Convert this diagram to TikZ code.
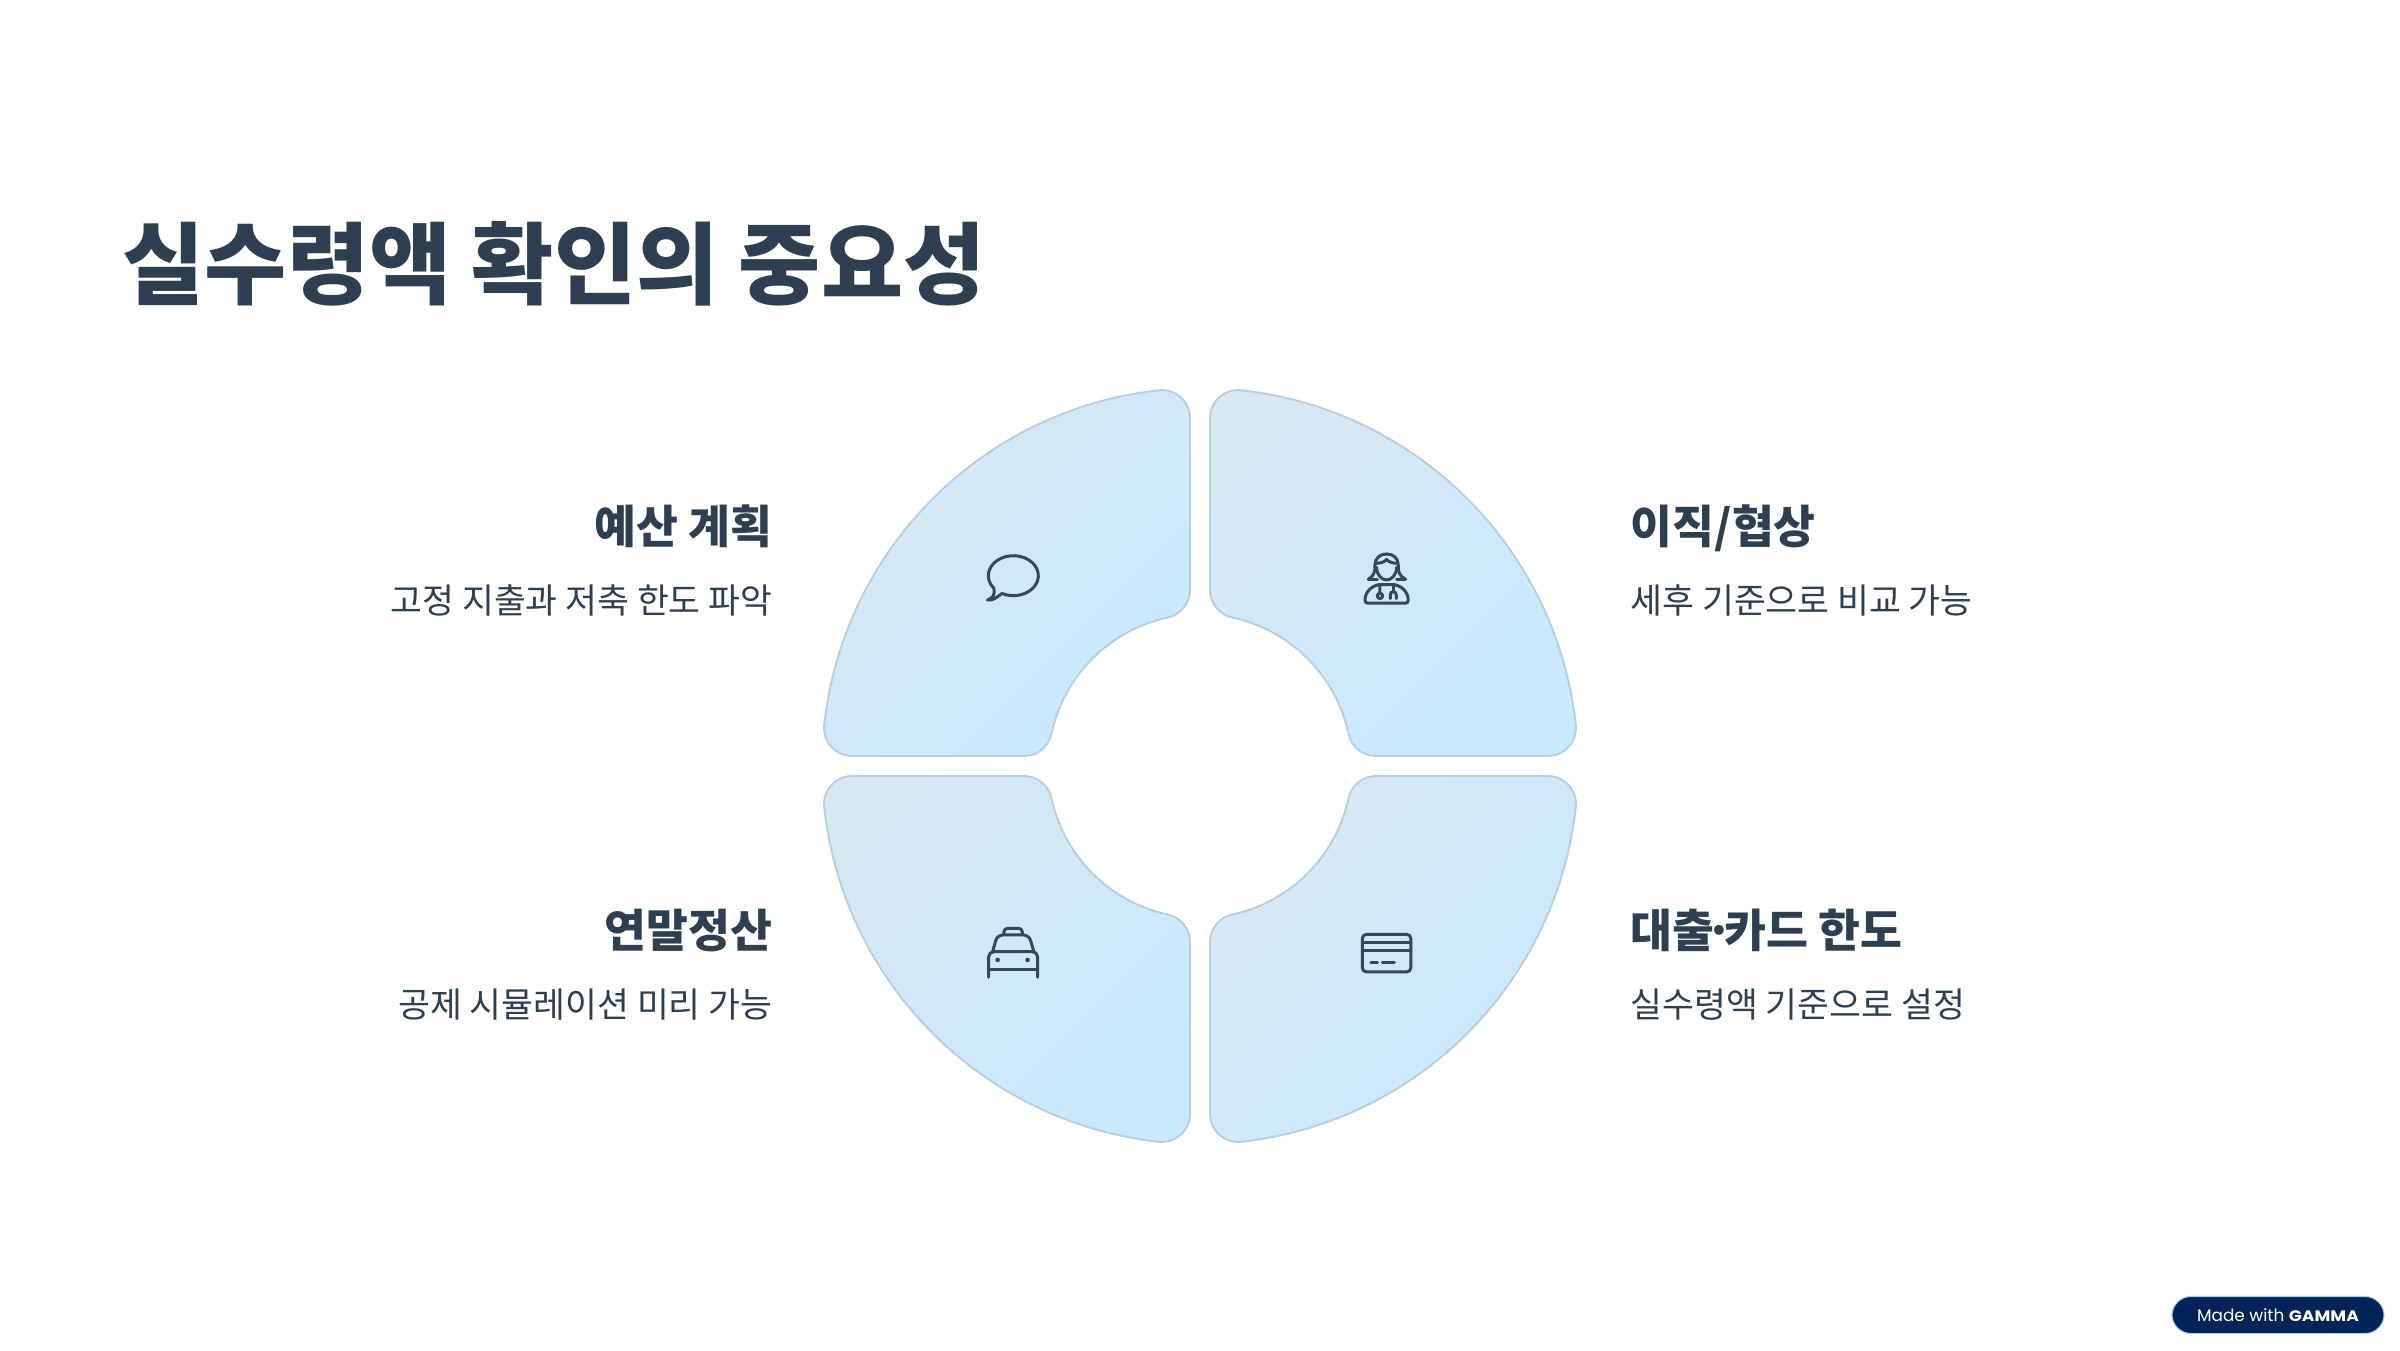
\documentclass[tikz,border=0pt]{standalone}
\usepackage{fontspec}
\setmainfont{Noto Sans CJK KR}
\newfontfamily\badgefont{Poppins}
\usetikzlibrary{positioning}
\definecolor{ink}{HTML}{2F3F52}
\definecolor{iconink}{HTML}{36475A}
\definecolor{quadlight}{HTML}{D7E8F3}
\definecolor{quaddeep}{HTML}{C9E9FE}
\definecolor{quadedge}{HTML}{B7CFE1}
\definecolor{badge}{HTML}{002358}
\definecolor{badgeedge}{HTML}{A9CBEE}
% one quarter ring, upper right, around the origin
\newcommand{\quarterring}{
  (10,175.94) -- (10,347.93)
  arc[start angle=180,end angle=83.77,radius=28]
  arc[start angle=83.77,end angle=6.23,radius=378]
  arc[start angle=6.23,end angle=-90,radius=28]
  -- (175.94,10)
  arc[start angle=270,end angle=192.19,radius=28]
  arc[start angle=12.19,end angle=77.81,radius=152]
  arc[start angle=257.81,end angle=180,radius=28] -- cycle}
\begin{document}
\begin{tikzpicture}[x=0.01cm,y=0.01cm,
      quarter/.style={draw=quadedge,line width=0.55pt,top color=quadlight,
                      bottom color=quaddeep,shading angle=45},
      title/.style={inner sep=0,text=ink,font=\fontsize{25.4}{30}\selectfont\bfseries,anchor=base west},
      headtext/.style={inner sep=0,text=ink,font=\fontsize{12.95}{15}\selectfont\bfseries},
      bodytext/.style={inner sep=0,text=ink,font=\fontsize{9.85}{12}\selectfont},
      icon/.style={x=0.00333cm,y=-0.00333cm,draw=iconink,line width=0.85pt,
                   line join=round,line cap=round}]
  \useasboundingbox (0,0) rectangle (2400,1350);
  \fill[white] (0,0) rectangle (2400,1350);
  \node[title] (heading) at (122,1053) {실수령액 확인의 중요성};

  % the four quarters
  \foreach \sx/\sy in {1/1,-1/1,1/-1,-1/-1}
    \shade[quarter,shift={(1200,584)},xscale=\sx,yscale=\sy] \quarterring;

  % left side
  \node[headtext,anchor=base east] (budget) at (773,807) {예산 계획};
  \node[bodytext,below=0.70cm of budget.base east,anchor=base east] (budgetnote) {고정 지출과 저축 한도 파악};
  \node[headtext,anchor=base east] (yearend) at (773,403) {연말정산};
  \node[bodytext,below=0.70cm of yearend.base east,anchor=base east] (yearendnote) {공제 시뮬레이션 미리 가능};
  % right side
  \node[headtext,anchor=base west] (jobmove) at (1630,807) {이직/협상};
  \node[bodytext,below=0.70cm of jobmove.base west,anchor=base west] (jobmovenote) {세후 기준으로 비교 가능};
  \node[headtext,anchor=base west] (loancard) at (1630,403) {대출\kern-.2em·\kern-.2em카드 한도};
  \node[bodytext,below=0.70cm of loancard.base west,anchor=base west] (loancardnote) {실수령액 기준으로 설정};

  % speech bubble
  \draw[draw=iconink,line width=0.85pt,line join=round,line cap=round] (1002,756.5)
    arc[start angle=243,end angle=579,x radius=25,y radius=20]
    .. controls (995,755) and (993,752) .. (987.5,750)
    .. controls (993,749) and (997,753) .. cycle;

  % doctor
  \begin{scope}[shift={(1340,820)},icon]
    \draw (85,148) .. controls (100,140) and (107,125) .. (105,105)
      .. controls (105,85) and (120,72) .. (140,72)
      .. controls (160,72) and (175,85) .. (175,105)
      .. controls (173,125) and (180,140) .. (197,148) -- (170,148);
    \draw (85,148) -- (112,148);
    \draw (107,100) .. controls (125,100) and (135,95) .. (140,88)
      .. controls (145,95) and (155,100) .. (173,100);
    \draw (110,112) .. controls (110,135) and (125,150) .. (140,150)
      .. controls (155,150) and (170,135) .. (170,112);
    \draw (118,164) .. controls (95,168) and (76,185) .. (75,210)
      .. controls (75,217) and (78,220) .. (84,220) -- (196,220)
      .. controls (202,220) and (205,217) .. (205,210)
      .. controls (204,185) and (185,168) .. (162,164) -- cycle;
    \draw (120,165) -- (120,190) (120,198) circle[radius=8];
    \draw (160,165) -- (160,185);
    \draw (151,206) -- (151,195) .. controls (151,182) and (169,182) .. (169,195) -- (169,206);
  \end{scope}

  % taxi
  \begin{scope}[shift={(970,440)},icon]
    \draw[rounded corners=1pt] (102,72) -- (102,55) -- (157,55) -- (157,72);
    \draw[rounded corners=1.6pt] (68,125) -- (82,75) -- (177,75) -- (192,125);
    \draw[rounded corners=1.5pt] (56,202) -- (56,125) -- (203,125) -- (203,202);
    \draw (56,180) -- (203,180);
    \fill[iconink] (83,150) circle[radius=7] (173,150) circle[radius=7];
  \end{scope}

  % bank card
  \begin{scope}[shift={(1345,435)},icon]
    \draw[rounded corners=1.2pt] (52,58) rectangle (198,171);
    \draw (52,83) -- (198,83) (52,107) -- (198,107);
    \draw (78,143) -- (97,143) (112,143) -- (148,143);
  \end{scope}

  % badge
  \node[draw=badgeedge,line width=0.3pt,fill=badge,rounded corners=0.19cm,minimum width=2.12cm,
        minimum height=0.37cm,inner sep=0,text=white,font=\badgefont\fontsize{4.8}{6}\selectfont] (gamma) at (2278,35)
        {Made with \textbf{\scalebox{1.02}[0.9]{GAMMA}}};
\end{tikzpicture}
\end{document}
